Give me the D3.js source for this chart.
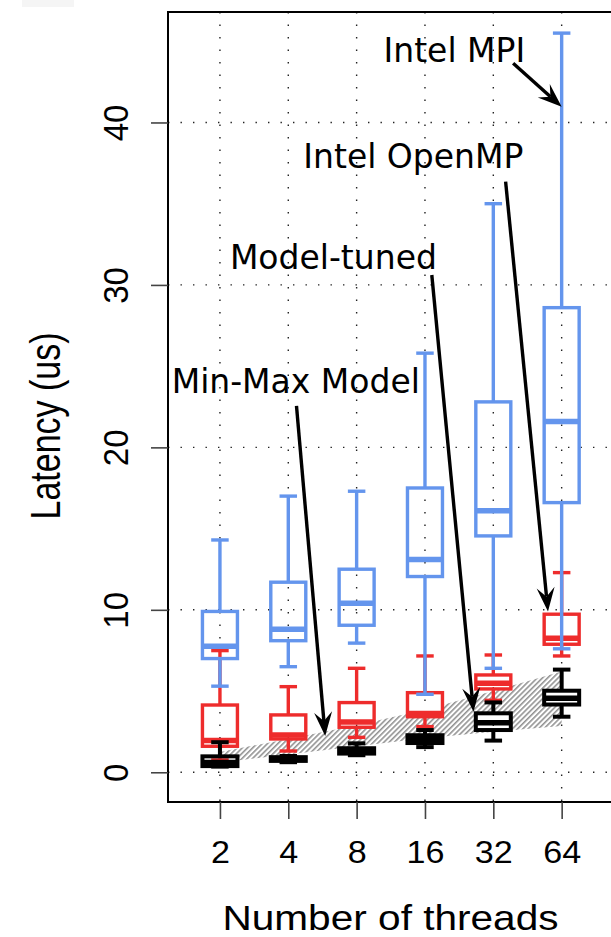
<!DOCTYPE html>
<html>
<head>
<meta charset="utf-8">
<script src="https://cdn.jsdelivr.net/npm/d3@7"></script>
<style>
    body { margin: 0; background: #fff; }
    svg { display: block; }
</style>
</head>
<body>
<svg id="chart" width="611" height="937"></svg>
<script>
// x categories (number of threads) and y ticks
var threads = ["2", "4", "8", "16", "32", "64"];
var yTicks = [0, 10, 20, 30, 40];

// box stats for each thread count: [low whisker, q1, median, q3, high whisker]
var intelMpi = [
    [5.3, 7.0, 7.75, 9.9, 14.3],
    [6.5, 8.1, 8.8, 11.7, 17.0],
    [7.95, 9.05, 10.4, 12.5, 17.3],
    [4.8, 12.05, 13.1, 17.5, 25.8],
    [6.4, 14.55, 16.1, 22.8, 35.0],
    [7.6, 16.6, 21.6, 28.6, 45.5]
];
var intelOpenMp = [
    [0.76, 1.6, 1.95, 4.14, 7.49],
    [1.31, 2.05, 2.3, 3.53, 5.27],
    [2.15, 2.77, 3.1, 4.29, 6.4],
    [2.81, 3.42, 3.62, 4.9, 7.16],
    [4.43, 5.13, 5.48, 5.99, 7.22],
    [7.16, 7.88, 8.25, 9.73, 12.29]
];
var modelTuned = [
    [0.35, 0.38, 0.6, 0.98, 1.85],
    [0.62, 0.7, 0.8, 0.93, 1.0],
    [1.05, 1.15, 1.3, 1.48, 1.78],
    [1.55, 1.8, 2.0, 2.28, 2.6],
    [1.95, 2.6, 3.05, 3.63, 4.3],
    [3.42, 4.17, 4.55, 5.02, 6.32]
];

// hatched band of the min-max model
var modelMin = [0.6, 1.1, 1.6, 2.1, 2.5, 2.85];
var modelMax = [1.25, 2.05, 2.9, 3.85, 5.0, 6.2];

// annotation labels: text spot and arrow (from -> to), in data units
var noteLabels = ["Intel MPI", "Intel OpenMP", "Model-tuned", "Min-Max Model"];
var noteText = [[4.43, 43.7], [3.83, 37.18], [2.66, 30.96], [2.11, 23.37]];
var noteFrom = [[5.29, 43.64], [5.18, 36.36], [4.10, 30.61], [2.12, 22.55]];
var noteTo = [[6.0, 40.97], [5.80, 9.89], [4.71, 3.73], [2.54, 2.23]];

var blue = "#6495ed", red = "#ee2c2c", black = "#000";
var sansAxis = "'Liberation Sans', Arial, Helvetica, sans-serif";
var sansNote = "'DejaVu Sans', Verdana, sans-serif";

window.addEventListener("load", function () {
    drawChart();
});

function drawChart() {
    var svg = d3.select("#chart");

    var x = d3.scaleLinear().domain([0.24, 6.76]).range([168, 613.6]),
        y = d3.scaleLinear().domain([-1.83, 46.8]).range([802, 12]);
    var pos = threads.map(function (d, i) { return i + 1; });
    var boxHalf = 0.256, capHalf = 0.128;

    // faint strip at the top left of the original picture
    svg.append("rect").attr("x", 22).attr("y", 0).attr("width", 52).attr("height", 7).attr("fill", "#f5f5f5");

    // hatch pattern
    var pat = svg.append("defs").append("pattern")
        .attr("id", "hatch")
        .attr("patternUnits", "userSpaceOnUse")
        .attr("width", 3.7).attr("height", 10)
        .attr("patternTransform", "rotate(45)");
    pat.append("line")
        .attr("x1", 0.8).attr("y1", 0).attr("x2", 0.8).attr("y2", 10)
        .attr("stroke", "#8c8c8c").attr("stroke-width", 1.5);

    var band = pos.map(function (p, i) { return [p, modelMax[i]]; })
        .concat(pos.map(function (p, i) { return [p, modelMin[i]]; }).reverse());
    svg.append("path")
        .attr("d", d3.line().x(function (d) { return x(d[0]); }).y(function (d) { return y(d[1]); })(band) + "Z")
        .attr("fill", "url(#hatch)");

    // white fill behind the red and black boxes
    [intelOpenMp, modelTuned].forEach(function (series) {
        svg.append("g").selectAll("rect")
            .data(series)
            .enter().append("rect")
            .attr("x", function (d, i) { return x(pos[i] - boxHalf); })
            .attr("y", function (d) { return y(d[3]); })
            .attr("width", function (d, i) { return x(pos[i] + boxHalf) - x(pos[i] - boxHalf); })
            .attr("height", function (d) { return y(d[1]) - y(d[3]); })
            .attr("fill", "#fff");
    });

    // dotted grid
    var grid = svg.append("g")
        .attr("stroke", "#222")
        .attr("stroke-width", 1.4)
        .attr("stroke-dasharray", "1.4 11.1");
    grid.selectAll(".gh")
        .data(yTicks)
        .enter().append("line")
        .attr("x1", x.range()[0]).attr("x2", x.range()[1])
        .attr("y1", function (d) { return y(d); }).attr("y2", function (d) { return y(d); });
    grid.selectAll(".gv")
        .data(pos)
        .enter().append("line")
        .attr("x1", function (d) { return x(d); }).attr("x2", function (d) { return x(d); })
        .attr("y1", y.range()[1]).attr("y2", y.range()[0]);

    drawBoxes(svg, intelOpenMp, red, 3.4, x, y, pos, boxHalf, capHalf);
    drawBoxes(svg, intelMpi, blue, 3.4, x, y, pos, boxHalf, capHalf);
    drawBoxes(svg, modelTuned, black, 4, x, y, pos, boxHalf, capHalf);

    // annotations with arrows
    var notes = svg.append("g");
    noteLabels.forEach(function (label, i) {
        notes.append("text")
            .attr("x", x(noteText[i][0]))
            .attr("y", y(noteText[i][1]))
            .attr("text-anchor", "middle")
            .style("font-family", sansNote)
            .style("font-size", "33px")
            .text(label);
        drawArrow(notes, x(noteFrom[i][0]), y(noteFrom[i][1]), x(noteTo[i][0]), y(noteTo[i][1]));
    });

    // plot frame
    svg.append("rect")
        .attr("x", x.range()[0]).attr("y", y.range()[1])
        .attr("width", 700).attr("height", y.range()[0] - y.range()[1])
        .attr("fill", "none").attr("stroke", "#000").attr("stroke-width", 2);

    // y axis
    var gy = svg.append("g")
        .attr("transform", "translate(" + x.range()[0] + ",0)")
        .call(d3.axisLeft(y).tickValues(yTicks).tickSize(17));
    gy.select(".domain").remove();
    gy.selectAll(".tick line").attr("stroke", "#444").attr("stroke-width", 1.6);
    gy.selectAll(".tick text")
        .attr("x", null).attr("dy", null)
        .attr("text-anchor", "middle")
        .attr("transform", "translate(-40,0) rotate(-90) scale(1,1.08)")
        .attr("fill", "#000")
        .style("font-family", sansAxis)
        .style("font-size", "33px");

    // x axis
    var gx = svg.append("g")
        .attr("transform", "translate(0," + y.range()[0] + ")")
        .call(d3.axisBottom(x).tickValues(pos).tickSize(17).tickFormat(function (d) { return threads[d - 1]; }));
    gx.select(".domain").remove();
    gx.selectAll(".tick line").attr("stroke", "#444").attr("stroke-width", 1.6);
    gx.selectAll(".tick text")
        .attr("y", null).attr("dy", null)
        .attr("transform", "translate(0,61) scale(1.1,1)")
        .attr("fill", "#000")
        .style("font-family", sansAxis)
        .style("font-size", "31px");

    // axis titles
    svg.append("text")
        .attr("transform", "translate(390.5,930) scale(1.16,1)")
        .attr("text-anchor", "middle")
        .style("font-family", sansAxis)
        .style("font-size", "35px")
        .text("Number of threads");
    svg.append("text")
        .attr("transform", "translate(60,426) rotate(-90) scale(1,1.25)")
        .attr("text-anchor", "middle")
        .style("font-family", sansAxis)
        .style("font-size", "34px")
        .text("Latency (us)");
}

function drawBoxes(svg, series, color, lw, x, y, pos, boxHalf, capHalf) {
    var g = svg.append("g")
        .attr("stroke", color)
        .attr("fill", "none")
        .attr("stroke-width", lw);

    var box = g.selectAll(".box")
        .data(series)
        .enter().append("g")
        .attr("class", "box");

    // whiskers
    box.append("line")
        .attr("x1", function (d, i) { return x(pos[i]); })
        .attr("x2", function (d, i) { return x(pos[i]); })
        .attr("y1", function (d) { return y(d[0]); })
        .attr("y2", function (d) { return y(d[1]); });
    box.append("line")
        .attr("x1", function (d, i) { return x(pos[i]); })
        .attr("x2", function (d, i) { return x(pos[i]); })
        .attr("y1", function (d) { return y(d[3]); })
        .attr("y2", function (d) { return y(d[4]); });

    // caps
    [0, 4].forEach(function (k) {
        box.append("line")
            .attr("x1", function (d, i) { return x(pos[i] - capHalf); })
            .attr("x2", function (d, i) { return x(pos[i] + capHalf); })
            .attr("y1", function (d) { return y(d[k]); })
            .attr("y2", function (d) { return y(d[k]); });
    });

    // box
    box.append("rect")
        .attr("x", function (d, i) { return x(pos[i] - boxHalf); })
        .attr("y", function (d) { return y(d[3]); })
        .attr("width", function (d, i) { return x(pos[i] + boxHalf) - x(pos[i] - boxHalf); })
        .attr("height", function (d) { return y(d[1]) - y(d[3]); });

    // median
    box.append("line")
        .attr("stroke-width", 5.5)
        .attr("x1", function (d, i) { return x(pos[i] - boxHalf); })
        .attr("x2", function (d, i) { return x(pos[i] + boxHalf); })
        .attr("y1", function (d) { return y(d[2]); })
        .attr("y2", function (d) { return y(d[2]); });
}

function drawArrow(g, x1, y1, x2, y2) {
    var ang = Math.atan2(y2 - y1, x2 - x1);
    var len = 24, half = 9, notch = 15;
    var ux = Math.cos(ang), uy = Math.sin(ang);
    var bx = x2 - ux * len, by = y2 - uy * len;
    var nx = x2 - ux * notch, ny = y2 - uy * notch;

    g.append("line")
        .attr("x1", x1).attr("y1", y1)
        .attr("x2", nx).attr("y2", ny)
        .attr("stroke", "#000").attr("stroke-width", 3.4);

    var head = [
        [x2, y2],
        [bx - uy * half, by + ux * half],
        [nx, ny],
        [bx + uy * half, by - ux * half]
    ];
    g.append("path")
        .attr("d", "M" + head.join("L") + "Z")
        .attr("fill", "#000");
}
</script>
</body>
</html>
